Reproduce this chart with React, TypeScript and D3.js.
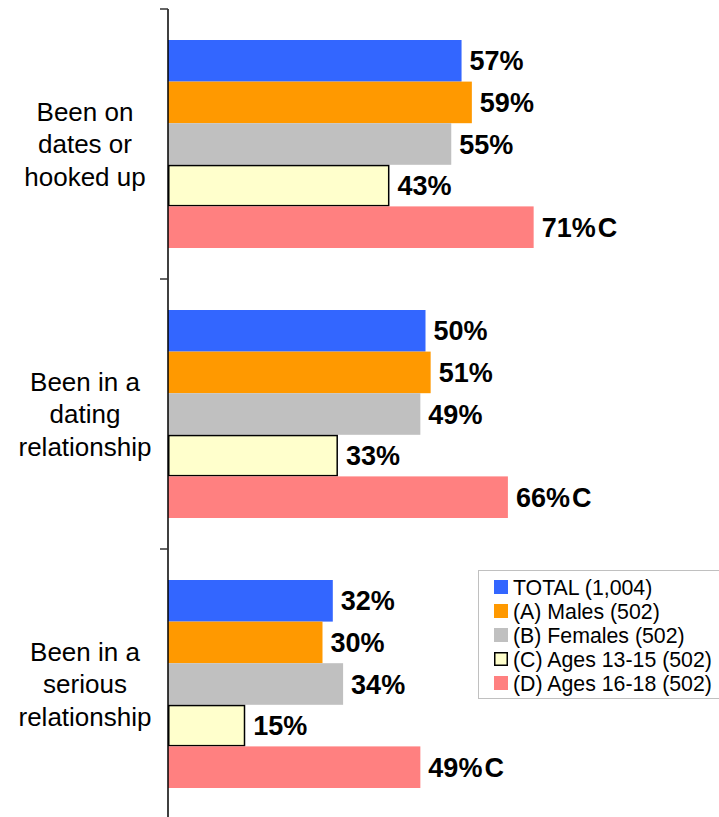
import React from "react";
import * as d3 from "d3";

const categories = [
  ["Been on", "dates or", "hooked up"],
  ["Been in a", "dating", "relationship"],
  ["Been in a", "serious", "relationship"],
];
const seriesNames = [
  "TOTAL (1,004)",
  "(A) Males (502)",
  "(B) Females (502)",
  "(C) Ages 13-15 (502)",
  "(D) Ages 16-18 (502)",
];
const seriesColors = ["#3366FF", "#FF9900", "#C0C0C0", "#FFFFCC", "#FF8080"];
const totalValues = [57, 50, 32];
const malesValues = [59, 51, 30];
const femalesValues = [55, 49, 34];
const ages1315Values = [43, 33, 15];
const ages1618Values = [71, 66, 49];
const sigMarks = [
  ["", "", "", "", "C"],
  ["", "", "", "", "C"],
  ["", "", "", "", "C"],
];

const seriesValues = [totalValues, malesValues, femalesValues, ages1315Values, ages1618Values];

const W = 719;
const H = 817;
const FONT = "'Liberation Sans', Arial, sans-serif";

export default function App() {
  const x = d3.scaleLinear().domain([0, 100]).range([168, 683]);
  const catIdx = categories.map((_, i) => String(i));
  const y0 = d3.scaleBand<string>().domain(catIdx).range([9, 819]).padding(0);
  const y1 = d3
    .scaleBand<string>()
    .domain(seriesNames)
    .range([31, y0.bandwidth() - 31])
    .padding(0);
  const bw = y1.bandwidth();
  const tickYs = [...catIdx.map((c) => y0(c) as number), 819];

  return (
    <svg
      width={W}
      height={H}
      style={{ position: "absolute", left: 0, top: 0, background: "#fff" }}
      fontFamily={FONT}
    >
      {categories.map((lines, ci) => {
        const gy = y0(String(ci)) as number;
        const cy = gy + y0.bandwidth() / 2;
        return (
          <g key={ci}>
            {seriesNames.map((s, si) => {
              const v = seriesValues[si][ci];
              const by = gy + (y1(s) as number);
              const isC = si === 3;
              return (
                <g key={s}>
                  <rect
                    x={x(0) + (isC ? 0.75 : 0)}
                    y={by + (isC ? 0.75 : 0)}
                    width={x(v) - x(0) - (isC ? 1.5 : 0)}
                    height={bw - (isC ? 1.5 : 0)}
                    fill={seriesColors[si]}
                    stroke={isC ? "#000" : "none"}
                    strokeWidth={isC ? 1.5 : 0}
                  />
                  <text
                    x={x(v) + 8}
                    y={by + bw / 2 + 9.5}
                    fontSize={27}
                    fontWeight="bold"
                    fill="#000"
                  >
                    {v}%
                    {sigMarks[ci][si] ? <tspan dx={2}>{sigMarks[ci][si]}</tspan> : null}
                  </text>
                </g>
              );
            })}
            {lines.map((ln, li) => (
              <text
                key={li}
                x={85}
                y={cy + 9 + (li - 1) * 32.5}
                textAnchor="middle"
                fontSize={26}
                fill="#000"
              >
                {ln}
              </text>
            ))}
          </g>
        );
      })}
      <line x1={168} x2={168} y1={9} y2={H} stroke="#000" strokeWidth={1.5} />
      {tickYs.map((t, i) => (
        <line key={i} x1={160} x2={168} y1={t} y2={t} stroke="#333" strokeWidth={1.5} />
      ))}
      <g>
        <rect x={478.5} y={570.5} width={260} height={128} fill="#fff" stroke="#C0C0C0" strokeWidth={1} />
        {seriesNames.map((s, si) => (
          <g key={s}>
            <rect
              x={494 + (si === 3 ? 0.75 : 0)}
              y={580 + si * 24 + (si === 3 ? 0.75 : 0)}
              width={14 - (si === 3 ? 1.5 : 0)}
              height={14 - (si === 3 ? 1.5 : 0)}
              fill={seriesColors[si]}
              stroke={si === 3 ? "#000" : "none"}
              strokeWidth={si === 3 ? 1.5 : 0}
            />
            <text x={513} y={580 + si * 24 + 14.5} fontSize={21.3} fill="#000">
              {s}
            </text>
          </g>
        ))}
      </g>
    </svg>
  );
}
